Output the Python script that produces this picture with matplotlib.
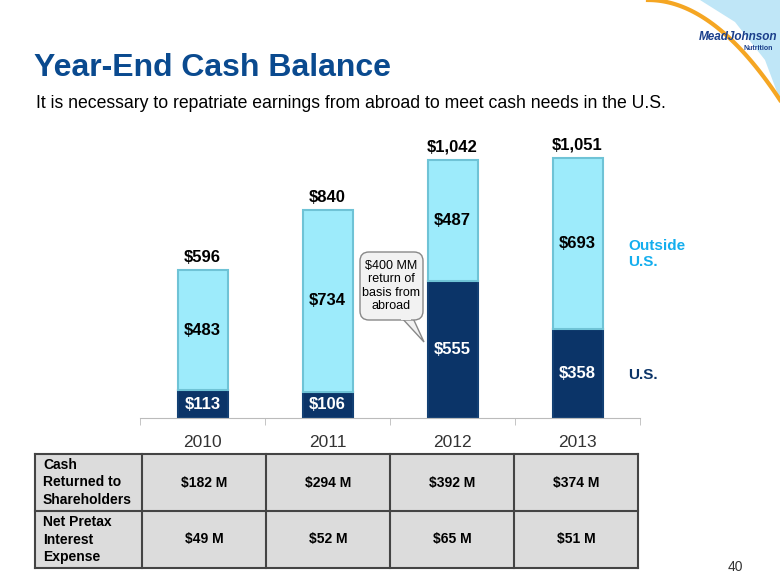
import matplotlib
matplotlib.use("Agg")
import matplotlib.pyplot as plt
from matplotlib.patches import FancyBboxPatch, Rectangle, Polygon
import numpy as np

plt.rcParams['font.family'] = ['Liberation Sans', 'DejaVu Sans']

# data
years = ['2010', '2011', '2012', '2013']
us_cash = [113, 106, 555, 358]
outside_cash = [483, 734, 487, 693]
totals = [596, 840, 1042, 1051]
row_labels = ['Cash\nReturned to\nShareholders', 'Net Pretax\nInterest\nExpense']
cash_returned = ['$182 M', '$294 M', '$392 M', '$374 M']
interest_expense = ['$49 M', '$52 M', '$65 M', '$51 M']

LIGHT = '#9DEBFB'
DARK = '#0B3468'
TITLE_BLUE = '#0A4A8F'

fig = plt.figure(figsize=(7.8, 5.85), dpi=100)

# background axes in pixel coordinates
bg = fig.add_axes([0, 0, 1, 1])
bg.set_xlim(0, 780)
bg.set_ylim(585, 0)
bg.axis('off')

# logo swoosh top-right
sky = Polygon([(700, 0), (780, 0), (780, 100), (765, 60), (735, 22)],
              closed=True, facecolor='#BFE6F7', edgecolor='none', zorder=0)
bg.add_patch(sky)
t = np.linspace(0, 1, 50)
bg.plot(648 + 132 * t, 0 + 100 * t ** 2.0, color='#F5A623', lw=3, zorder=1)
bg.text(738, 37, 'MeadJohnson', color='#1B3F8B', fontsize=8.5, fontweight='bold',
        style='italic', ha='center', va='center', zorder=2)
bg.text(758, 48, 'Nutrition', color='#1B3F8B', fontsize=5, fontweight='bold',
        ha='center', va='center', zorder=2)

# title and subtitle
bg.text(34, 68, 'Year-End Cash Balance', color=TITLE_BLUE, fontsize=23,
        fontweight='bold', ha='left', va='center')
bg.text(36, 103, 'It is necessary to repatriate earnings from abroad to meet cash needs in the U.S.',
        color='black', fontsize=12.7, ha='left', va='center')

# chart axes
ax = fig.add_axes([140 / 780, 167 / 585, 500 / 780, 297 / 585])
ax.patch.set_alpha(0)
x = np.arange(len(years))
w = 0.4
ax.bar(x, us_cash, width=w, color=DARK, edgecolor='#123F73', linewidth=1.5, zorder=2)
ax.bar(x, outside_cash, width=w, bottom=us_cash, color=LIGHT, edgecolor='#6FC3D6',
       linewidth=1.5, zorder=2)
ax.set_xlim(-0.5, 3.5)
ax.set_ylim(0, 1200)
for s in ['top', 'right', 'left']:
    ax.spines[s].set_visible(False)
ax.spines['bottom'].set_color('#BBBBBB')
ax.set_yticks([])
ax.set_xticks(x)
ax.set_xticklabels(years, fontsize=12.5, color='#333333')
ax.tick_params(axis='x', which='major', length=0, pad=12)
ax.set_xticks(np.arange(-0.5, 4.0, 1.0), minor=True)
ax.tick_params(axis='x', which='minor', length=5, color='#BBBBBB')

for i in range(len(years)):
    ax.text(x[i], us_cash[i] / 2, f'${us_cash[i]:,}', color='white', fontsize=12,
            fontweight='bold', ha='center', va='center', zorder=3)
    ax.text(x[i], us_cash[i] + outside_cash[i] / 2, f'${outside_cash[i]:,}', color='black',
            fontsize=12, fontweight='bold', ha='center', va='center', zorder=3)
    ax.annotate(f'${totals[i]:,}', (x[i], totals[i]), xytext=(0, 4),
                textcoords='offset points', ha='center', va='bottom',
                fontsize=12, fontweight='bold', color='black')

# legend labels
fig.text(628 / 780, 1 - 254 / 585, 'Outside\nU.S.', color='#14AEEE', fontsize=11,
         fontweight='bold', ha='left', va='center', linespacing=1.2)
fig.text(628 / 780, 1 - 375 / 585, 'U.S.', color=DARK, fontsize=11, fontweight='bold',
         ha='left', va='center')

# callout
bg.add_patch(Polygon([(400, 316), (412, 316), (424, 342)], closed=True,
                     facecolor='#F2F2F2', edgecolor='#888888', lw=1, zorder=4))
bg.add_patch(FancyBboxPatch((360, 252), 63, 68, boxstyle='round,pad=0,rounding_size=9',
                            facecolor='#F2F2F2', edgecolor='#888888', lw=1, zorder=5))
bg.add_patch(Rectangle((401, 313), 10, 7, facecolor='#F2F2F2', edgecolor='none', zorder=6))
bg.text(391.5, 286, '$400 MM\nreturn of\nbasis from\nabroad', fontsize=9, ha='center',
        va='center', linespacing=1.15, zorder=7)

# table
col_edges = [35, 142, 266, 390, 514, 638]
row_edges = [454, 511, 568]
bg.add_patch(Rectangle((col_edges[0], row_edges[0]), col_edges[-1] - col_edges[0],
                       row_edges[-1] - row_edges[0], facecolor='#DCDCDC',
                       edgecolor='none', zorder=1))
for cx in col_edges:
    bg.plot([cx, cx], [row_edges[0], row_edges[-1]], color='#444444', lw=1.5, zorder=2)
for ry in row_edges:
    bg.plot([col_edges[0], col_edges[-1]], [ry, ry], color='#444444', lw=1.5, zorder=2)

rows = [cash_returned, interest_expense]
for r in range(2):
    yc = (row_edges[r] + row_edges[r + 1]) / 2
    bg.text(43, yc, row_labels[r], fontsize=10, fontweight='bold', ha='left',
            va='center', linespacing=1.3, zorder=3)
    for c in range(4):
        xc = (col_edges[c + 1] + col_edges[c + 2]) / 2
        bg.text(xc, yc, rows[r][c], fontsize=10, fontweight='bold', ha='center',
                va='center', zorder=3)

bg.text(735, 567, '40', fontsize=10, color='#333333', ha='center', va='center')

fig.savefig('out.png', dpi=100)
